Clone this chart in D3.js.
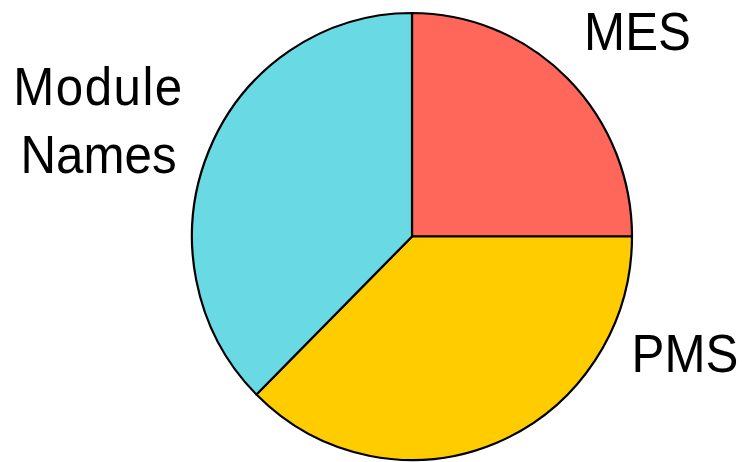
<!DOCTYPE html>
<html>
<head>
<meta charset="utf-8">
<script src="https://cdn.jsdelivr.net/npm/d3@7"></script>
<style>
html,body{margin:0;padding:0;background:#fff;}
svg{display:block;}
text{font-family:"Liberation Sans",Arial,Helvetica,sans-serif;fill:#000;}
</style>
</head>
<body>
<svg id="chart" width="742" height="462"></svg>
<script>
const categories = ["MES", "PMS", "Module Names"];
const values = [2, 3, 3];
const colors = ["#ff675a", "#ffcc00", "#69d9e3"];
const labelLines = [["MES"], ["PMS"], ["Module", "Names"]];

const svg = d3.select("#chart");
const cx = 412, cy = 236.5, rx = 220, ry = 223.5;

const pie = d3.pie().sort(null).value(d => d.value);
const data = categories.map((c, i) => ({name: c, value: values[i], color: colors[i]}));
const arcs = pie(data);
const arc = d3.arc().innerRadius(0).outerRadius(ry);

const g = svg.append("g")
  .attr("transform", `translate(${cx},${cy}) scale(${rx / ry},1)`);

g.selectAll("path").data(arcs).enter().append("path")
  .attr("d", arc)
  .attr("fill", d => d.data.color)
  .attr("stroke", "#000")
  .attr("stroke-width", 2.2)
  .attr("vector-effect", "non-scaling-stroke")
  .attr("stroke-linejoin", "round");

// label anchor positions (center x, first baseline y)
const labelPos = [[637.5, 50], [685, 372], [98.5, 105]];
const fontSize = 53, lineGap = 68, squeeze = 0.93;

arcs.forEach((a, i) => {
  const [lx, ly] = labelPos[i];
  const t = svg.append("text")
    .attr("transform", `translate(${lx},${ly}) scale(${squeeze},1)`)
    .attr("text-anchor", "middle")
    .attr("font-size", fontSize);
  labelLines[i].forEach((line, j) => {
    t.append("tspan").attr("x", 0).attr("y", j * lineGap)
      .attr("letter-spacing", line === "Module" ? 1.6 : 0)
      .text(line);
  });
});
</script>
</body>
</html>
